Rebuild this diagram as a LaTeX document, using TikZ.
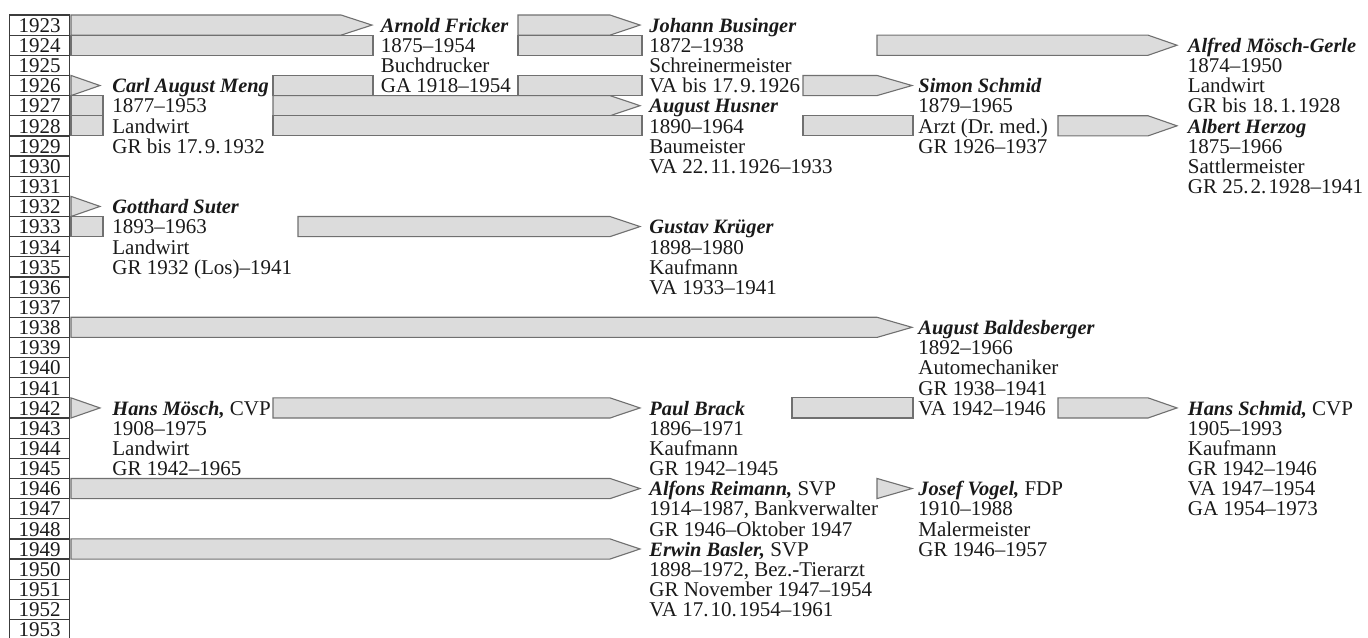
\documentclass[tikz,border=0pt]{standalone}
\usepackage{fontspec}
\setmainfont{Liberation Serif}
\usetikzlibrary{calc, positioning}

\definecolor{barfill}{HTML}{DCDCDC}
\definecolor{barline}{HTML}{707070}
\definecolor{ink}{HTML}{1A1A1A}

\newcommand{\who}[1]{{\fontsize{10.2}{12}\selectfont\textbf{\textit{#1}}}}
\newcommand{\ds}{\hspace{0.1em}}

% seat bar: row, left x, end of straight part, tip x
\newcommand{\seatbar}[4]{%
  \draw[seat] (#2,{\yzero+\rowh*#1}) -- (#3,{\yzero+\rowh*#1})
    -- (#4,{\yzero+\rowh*(#1+0.5)}) -- (#3,{\yzero+\rowh*(#1+1)})
    -- (#2,{\yzero+\rowh*(#1+1)}) -- cycle;}

% person: name, column x, first row, lines
\newcommand{\person}[4]{%
  \foreach \ln [count=\k from 0] in {#4}
    \node[txt] (#1-\k) at (#2,{\yzero+\rowh*(#3+\k+1)-\base}) {\ln};}

\begin{document}
\begin{tikzpicture}[x=0.5pt, y=-0.5pt,
  yearbox/.style={draw=ink!85, line width=0.6pt, minimum width=30pt, inner xsep=0pt, inner ysep=0pt,
    outer sep=0pt, text height=8.68pt, text depth=1.4pt, anchor=north west,
    font=\fontsize{10.5}{12}\selectfont, text=ink},
  txt/.style={anchor=base west, inner sep=0pt, font=\fontsize{10.5}{12}\selectfont, text=ink},
  seat/.style={fill=barfill, draw=barline, line width=0.55pt}]
\def\rowh{20.15}
\def\yzero{15}
\def\base{2.8}
\def\colA{112}
\def\colB{380.5}
\def\colC{649}
\def\colD{918}
\def\colE{1187.5}

\useasboundingbox (0,0) rectangle (1368,637);

\foreach \yr [count=\r from 0] in {1923,...,1953}
  \node[yearbox] (y\yr) at (9.5,{\yzero+\rowh*\r}) {\yr};

\seatbar{0}{71}{341}{372}
\seatbar{0}{518}{610}{640}
\seatbar{1}{71}{373}{373}
\seatbar{1}{518}{642}{642}
\seatbar{1}{877}{1148}{1177}
\seatbar{3}{71}{71}{100}
\seatbar{3}{273}{373}{373}
\seatbar{3}{518}{642}{642}
\seatbar{3}{803}{877}{912}
\seatbar{4}{71}{103}{103}
\seatbar{4}{273}{610}{640}
\seatbar{5}{71}{103}{103}
\seatbar{5}{273}{642}{642}
\seatbar{5}{803}{913}{913}
\seatbar{5}{1058}{1148}{1177}
\seatbar{9}{71}{71}{100}
\seatbar{10}{71}{103}{103}
\seatbar{10}{298}{610}{640}
\seatbar{15}{71}{877}{912}
\seatbar{19}{71}{71}{100}
\seatbar{19}{273}{610}{640}
\seatbar{19}{792}{913}{913}
\seatbar{19}{1058}{1148}{1177}
\seatbar{23}{71}{610}{640}
\seatbar{23}{877}{877}{912}
\seatbar{26}{71}{610}{640}

\person{fricker}{\colB}{0}{{\who{Arnold Fricker}}, 1875--1954, Buchdrucker, GA 1918--1954}
\person{businger}{\colC}{0}{{\who{Johann Businger}}, 1872--1938, Schreinermeister, VA bis 17.\ds9.\ds1926}
\person{moeschgerle}{\colE}{1}{{\who{Alfred Mösch-Gerle}}, 1874--1950, Landwirt, GR bis 18.\ds1.\ds1928}
\person{meng}{\colA}{3}{{\who{Carl August Meng}}, 1877--1953, Landwirt, GR bis 17.\ds9.\ds1932}
\person{sschmid}{\colD}{3}{{\who{Simon Schmid}}, 1879--1965, Arzt (Dr.\ med.), GR 1926--1937}
\person{husner}{\colC}{4}{{\who{August Husner}}, 1890--1964, Baumeister, VA 22.\ds11.\ds1926--1933}
\person{herzog}{\colE}{5}{{\who{Albert Herzog}}, 1875--1966, Sattlermeister, GR 25.\ds2.\ds1928--1941}
\person{suter}{\colA}{9}{{\who{Gotthard Suter}}, 1893--1963, Landwirt, GR 1932 (Los)--1941}
\person{krueger}{\colC}{10}{{\who{Gustav Krüger}}, 1898--1980, Kaufmann, VA 1933--1941}
\person{baldesberger}{\colD}{15}{{\who{August Baldesberger}}, 1892--1966, Automechaniker, GR 1938--1941, VA 1942--1946}
\person{hmoesch}{\colA}{19}{{\who{Hans Mösch,} CVP}, 1908--1975, Landwirt, GR 1942--1965}
\person{brack}{\colC}{19}{{\who{Paul Brack}}, 1896--1971, Kaufmann, GR 1942--1945}
\person{hschmid}{\colE}{19}{{\who{Hans Schmid,} CVP}, 1905--1993, Kaufmann, GR 1942--1946, VA 1947--1954, GA 1954--1973}
\person{reimann}{\colC}{23}{{\who{Alfons Reimann,} SVP}, {1914--1987, Bankverwalter}, GR 1946--Oktober 1947}
\person{vogel}{\colD}{23}{{\who{Josef Vogel,} FDP}, 1910--1988, Malermeister, GR 1946--1957}
\person{basler}{\colC}{26}{{\who{Erwin Basler,} SVP}, {1898--1972, Bez.-Tierarzt}, GR November 1947--1954, VA 17.\ds10.\ds1954--1961}
\end{tikzpicture}
\end{document}
